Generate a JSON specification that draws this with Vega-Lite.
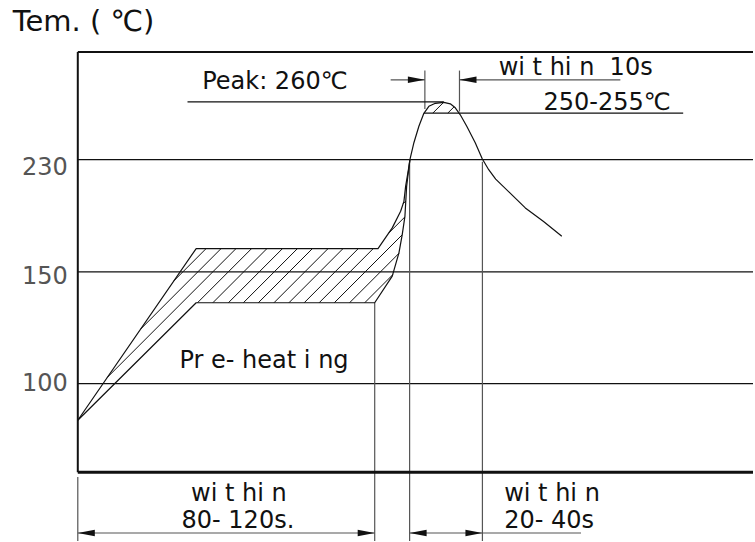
{
  "$schema": "https://vega.github.io/schema/vega-lite/v6.json",
  "width": 755,
  "height": 542,
  "autosize": {"type": "fit", "contains": "padding"},
  "padding": 0,
  "background": "white",
  "config": {"view": {"stroke": null}},
  "datasets": {
    "frame": [
      {"x": 0, "y": 421, "x2": 677, "y2": 421},
      {"x": 0, "y": 0, "x2": 0, "y2": 421}
    ],
    "base": [
      {"x": 0, "y": 0, "x2": 677, "y2": 0}
    ],
    "grid": [
      {"x": 0, "y": 313, "x2": 677, "y2": 313},
      {"x": 0, "y": 200.7, "x2": 677, "y2": 200.7},
      {"x": 0, "y": 88.7, "x2": 677, "y2": 88.7}
    ],
    "dims": [
      {"x": 0, "y": -69, "x2": 0, "y2": -5},
      {"x": 297.7, "y": 169.7, "x2": 297.7, "y2": -69},
      {"x": 332.7, "y": 313, "x2": 332.7, "y2": -69},
      {"x": 405.7, "y": 311, "x2": 405.7, "y2": -69},
      {"x": 348, "y": 402.3, "x2": 348, "y2": 363.7},
      {"x": 382.7, "y": 402.3, "x2": 382.7, "y2": 361.3},
      {"x": 313.7, "y": 393, "x2": 348, "y2": 393},
      {"x": 382.7, "y": 393, "x2": 544, "y2": 393},
      {"x": 0, "y": -61, "x2": 297.7, "y2": -61},
      {"x": 332.7, "y": -61, "x2": 504.6, "y2": -61}
    ],
    "leaders": [
      {"x": 110, "y": 371, "x2": 367, "y2": 371},
      {"x": 347, "y": 359.7, "x2": 607, "y2": 359.7}
    ],
    "hatch": [
      {"x": 128.7, "y": 224, "x2": 96.4, "y2": 191.7},
      {"x": 143.7, "y": 224, "x2": 63, "y2": 143.3},
      {"x": 158.7, "y": 224, "x2": 29.6, "y2": 94.9},
      {"x": 174.3, "y": 224, "x2": 120, "y2": 169.7},
      {"x": 189.7, "y": 224, "x2": 135.4, "y2": 169.7},
      {"x": 205.3, "y": 224, "x2": 151, "y2": 169.7},
      {"x": 220.3, "y": 224, "x2": 166, "y2": 169.7},
      {"x": 235.3, "y": 224, "x2": 181, "y2": 169.7},
      {"x": 251, "y": 224, "x2": 196.7, "y2": 169.7},
      {"x": 266, "y": 224, "x2": 211.7, "y2": 169.7},
      {"x": 281.3, "y": 224, "x2": 227, "y2": 169.7},
      {"x": 296.3, "y": 224, "x2": 242, "y2": 169.7},
      {"x": 257.2, "y": 169.7, "x2": 325.3, "y2": 237.8},
      {"x": 272.5, "y": 169.7, "x2": 322, "y2": 219.2},
      {"x": 287.7, "y": 169.7, "x2": 315.7, "y2": 197.7},
      {"x": 312, "y": 239.7, "x2": 327.9, "y2": 255.6},
      {"x": 326.2, "y": 268.9, "x2": 328.9, "y2": 271.6},
      {"x": 356, "y": 359.7, "x2": 367, "y2": 370.7},
      {"x": 371, "y": 359.7, "x2": 377.3, "y2": 366}
    ],
    "curves": [
      {"curve": "upper", "i": 1, "x": 0, "y": 52},
      {"curve": "upper", "i": 2, "x": 118.7, "y": 224},
      {"curve": "upper", "i": 3, "x": 301, "y": 224},
      {"curve": "upper", "i": 4, "x": 315.3, "y": 244.7},
      {"curve": "upper", "i": 5, "x": 323.7, "y": 261.3},
      {"curve": "upper", "i": 6, "x": 327, "y": 271.3},
      {"curve": "upper", "i": 7, "x": 328.7, "y": 286.3},
      {"curve": "upper", "i": 8, "x": 331.5, "y": 303},
      {"curve": "upper", "i": 9, "x": 333, "y": 313},
      {"curve": "upper", "i": 10, "x": 337, "y": 330},
      {"curve": "upper", "i": 11, "x": 342, "y": 346.5},
      {"curve": "upper", "i": 12, "x": 347, "y": 359.5},
      {"curve": "upper", "i": 13, "x": 352, "y": 366.5},
      {"curve": "upper", "i": 14, "x": 358.5, "y": 369.5},
      {"curve": "upper", "i": 15, "x": 367, "y": 370.5},
      {"curve": "upper", "i": 16, "x": 373.5, "y": 369},
      {"curve": "upper", "i": 17, "x": 378.5, "y": 365},
      {"curve": "upper", "i": 18, "x": 383.5, "y": 358},
      {"curve": "upper", "i": 19, "x": 390, "y": 346.5},
      {"curve": "upper", "i": 20, "x": 398.5, "y": 330},
      {"curve": "upper", "i": 21, "x": 405.5, "y": 314},
      {"curve": "upper", "i": 22, "x": 412, "y": 303},
      {"curve": "upper", "i": 23, "x": 419, "y": 293.5},
      {"curve": "upper", "i": 24, "x": 433, "y": 280},
      {"curve": "upper", "i": 25, "x": 448.7, "y": 264.7},
      {"curve": "upper", "i": 26, "x": 467, "y": 251},
      {"curve": "upper", "i": 27, "x": 485.3, "y": 236.3},
      {"curve": "lower", "i": 1, "x": 0, "y": 52},
      {"curve": "lower", "i": 2, "x": 118.7, "y": 169.7},
      {"curve": "lower", "i": 3, "x": 297.7, "y": 169.7},
      {"curve": "lower", "i": 4, "x": 315.3, "y": 196.3},
      {"curve": "lower", "i": 5, "x": 322, "y": 219.7},
      {"curve": "lower", "i": 6, "x": 325.3, "y": 238},
      {"curve": "lower", "i": 7, "x": 328, "y": 256.3},
      {"curve": "lower", "i": 8, "x": 329.7, "y": 286.3},
      {"curve": "lower", "i": 9, "x": 331.5, "y": 301},
      {"curve": "lower", "i": 10, "x": 333, "y": 313}
    ],
    "arrows": [
      {"x": 348, "y": 393, "dir": "right"},
      {"x": 382.7, "y": 393, "dir": "left"},
      {"x": 0, "y": -61, "dir": "left"},
      {"x": 297.7, "y": -61, "dir": "right"},
      {"x": 332.7, "y": -61, "dir": "left"},
      {"x": 405.7, "y": -61, "dir": "right"}
    ],
    "title": [
      {"x": -65.3, "y": 442.3, "text": "Tem. ( ℃)"}
    ],
    "labels": [
      {"x": 124.7, "y": 383.7, "text": "Peak: 260℃"},
      {"x": 422, "y": 398, "text": "wi t hi n\u00a0 10s"},
      {"x": 467, "y": 363, "text": "250-255℃"},
      {"x": 102, "y": 104.7, "text": "Pr e- heat i ng"},
      {"x": 113.6, "y": -29, "text": "wi t hi n"},
      {"x": 104, "y": -56.3, "text": "80- 120s."},
      {"x": 427.5, "y": -29, "text": "wi t hi n"},
      {"x": 427.5, "y": -56.3, "text": "20- 40s"}
    ],
    "ticks": [
      {"x": -10, "y": 297.5, "text": "230"},
      {"x": -10, "y": 188, "text": "150"},
      {"x": -10, "y": 81, "text": "100"}
    ]
  },
  "encoding": {
    "x": {"field": "x", "type": "quantitative", "scale": {"domain": [-78, 677], "nice": false, "zero": false}, "axis": null},
    "y": {"field": "y", "type": "quantitative", "scale": {"domain": [-69, 473], "nice": false, "zero": false}, "axis": null}
  },
  "layer": [
    {
      "data": {"name": "grid"},
      "mark": {"type": "rule", "color": "#111", "strokeWidth": 1.2},
      "encoding": {"x2": {"field": "x2"}, "y2": {"field": "y2"}}
    },
    {
      "data": {"name": "dims"},
      "mark": {"type": "rule", "color": "#555", "strokeWidth": 1.2},
      "encoding": {"x2": {"field": "x2"}, "y2": {"field": "y2"}}
    },
    {
      "data": {"name": "hatch"},
      "mark": {"type": "rule", "color": "#111", "strokeWidth": 1},
      "encoding": {"x2": {"field": "x2"}, "y2": {"field": "y2"}}
    },
    {
      "data": {"name": "leaders"},
      "mark": {"type": "rule", "color": "#111", "strokeWidth": 1.2},
      "encoding": {"x2": {"field": "x2"}, "y2": {"field": "y2"}}
    },
    {
      "data": {"name": "curves"},
      "mark": {"type": "line", "color": "#111", "strokeWidth": 1.2, "strokeJoin": "round"},
      "encoding": {"detail": {"field": "curve"}, "order": {"field": "i", "type": "quantitative"}}
    },
    {
      "data": {"name": "frame"},
      "mark": {"type": "rule", "color": "#111", "strokeWidth": 2},
      "encoding": {"x2": {"field": "x2"}, "y2": {"field": "y2"}}
    },
    {
      "data": {"name": "base"},
      "mark": {"type": "rule", "color": "#111", "strokeWidth": 3},
      "encoding": {"x2": {"field": "x2"}, "y2": {"field": "y2"}}
    },
    {
      "data": {"name": "arrows"},
      "mark": {"type": "point", "filled": true, "color": "#111", "opacity": 1, "size": 289, "strokeWidth": 0},
      "encoding": {
        "shape": {"field": "dir", "type": "nominal", "legend": null,
          "scale": {"domain": ["right", "left"], "range": ["M0,0L-2,-0.38L-2,0.38Z", "M0,0L2,-0.38L2,0.38Z"]}}
      }
    },
    {
      "data": {"name": "title"},
      "mark": {"type": "text", "font": "DejaVu Sans", "fontSize": 29, "align": "left", "baseline": "alphabetic", "color": "#111"},
      "encoding": {"text": {"field": "text"}}
    },
    {
      "data": {"name": "labels"},
      "mark": {"type": "text", "font": "DejaVu Sans", "fontSize": 24, "align": "left", "baseline": "alphabetic", "color": "#111"},
      "encoding": {"text": {"field": "text"}}
    },
    {
      "data": {"name": "ticks"},
      "mark": {"type": "text", "font": "DejaVu Sans", "fontSize": 24, "align": "right", "baseline": "alphabetic", "color": "#555"},
      "encoding": {"text": {"field": "text"}}
    }
  ]
}
